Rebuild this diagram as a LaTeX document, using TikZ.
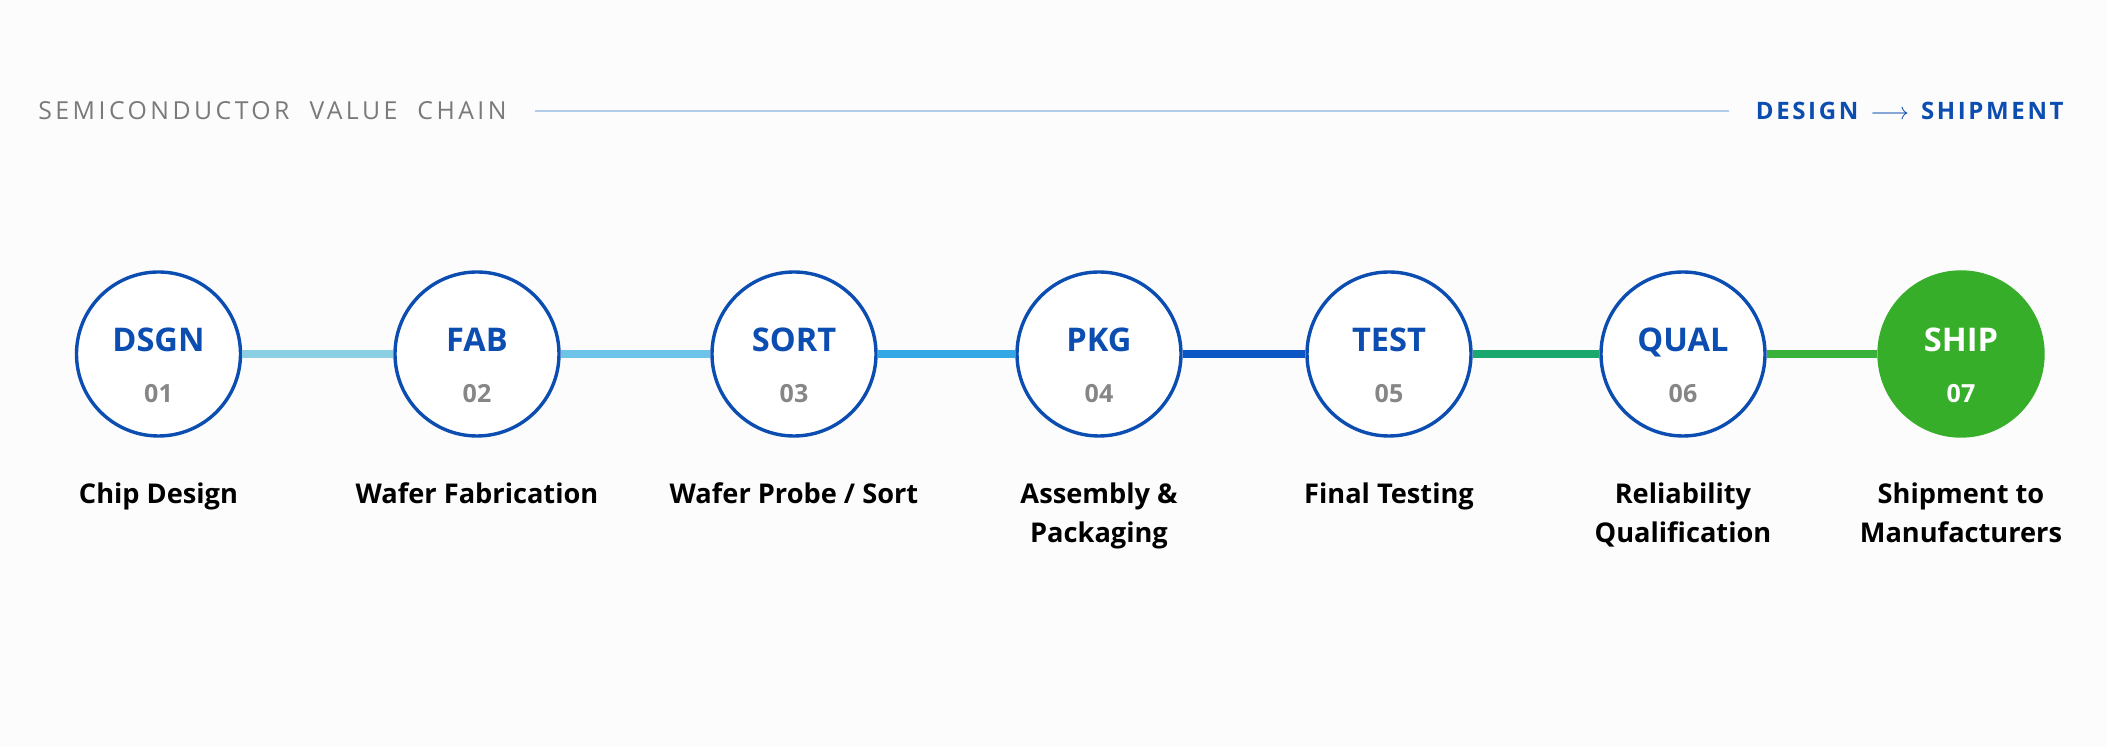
\documentclass[tikz,border=0pt]{standalone}
\usepackage{fontspec}
\setmainfont{Open Sans}
\usetikzlibrary{positioning}

\definecolor{navy}{HTML}{0B4DB0}
\definecolor{numgray}{HTML}{868686}
\definecolor{titlegray}{HTML}{7A7A7A}
\definecolor{rulecol}{HTML}{B3CBEA}
\definecolor{shipgreen}{HTML}{37AE2A}
\definecolor{linkA}{HTML}{8AD0E2}
\definecolor{linkB}{HTML}{6DC3E8}
\definecolor{linkC}{HTML}{33A8E4}
\definecolor{linkD}{HTML}{0B55C5}
\definecolor{linkE}{HTML}{1BA86E}
\definecolor{linkF}{HTML}{38B23A}
\definecolor{bgcol}{HTML}{FCFCFD}

\tikzset{%
  % Specifications for style of nodes:
       stage/.style = {circle, draw=navy, line width=1.7pt, fill=white,
                       minimum size=82pt, inner sep=0pt,
                       text=navy, text height=11.6pt, text depth=14pt,
                       font=\fontsize{16.3}{19}\selectfont\bfseries},
    shipstage/.style = {stage, draw=shipgreen, fill=shipgreen, text=white},
      number/.style = {inner sep=0pt, text=numgray,
                       font=\fontsize{12.5}{14}\selectfont\bfseries},
     caption/.style = {align=center, inner sep=0pt,
                       font=\fontsize{13.6}{19.5}\selectfont\bfseries},
      header/.style = {inner sep=0pt, text height=8.7pt, text depth=0pt,
                       font=\fontsize{12.4}{14}\selectfont},
        link/.style = {line width=4pt},
}

\begin{document}
\begin{tikzpicture}[x=0.5pt, y=-0.5pt]
  \useasboundingbox[fill=bgcol] (0,0) rectangle (2106,747);
  % Header line
  \node (title) [header, anchor=west, text=titlegray] at (38,111)
    {\addfontfeature{LetterSpace=14}SEMICONDUCTOR\hspace{10pt}VALUE\hspace{10pt}CHAIN};
  \node (flow) [header, anchor=east, text=navy, font=\fontsize{12}{14}\selectfont] at (2064,111)
    {\bfseries\addfontfeature{LetterSpace=11}DESIGN\hspace{6pt}$\longrightarrow$\hspace{6pt}SHIPMENT};
  \draw[rulecol, line width=0.8pt] ([xshift=14pt]title.east) -- ([xshift=-13.5pt]flow.west);
  % Specification of stage circles
  \node (dsgn) [stage]     at (158.5,354) {DSGN};
  \node (fab)  [stage]     at (477,354)   {FAB};
  \node (sort) [stage]     at (794,354)   {SORT};
  \node (pkg)  [stage]     at (1099,354)  {PKG};
  \node (test) [stage]     at (1389,354)  {TEST};
  \node (qual) [stage]     at (1683,354)  {QUAL};
  \node (ship) [shipstage] at (1961,354)  {SHIP};
  % Step numbers
  \node (n01) [number] at ([yshift=-20pt]dsgn.center) {01};
  \node (n02) [number] at ([yshift=-20pt]fab.center)  {02};
  \node (n03) [number] at ([yshift=-20pt]sort.center) {03};
  \node (n04) [number] at ([yshift=-20pt]pkg.center)  {04};
  \node (n05) [number] at ([yshift=-20pt]test.center) {05};
  \node (n06) [number] at ([yshift=-20pt]qual.center) {06};
  \node (n07) [number, text=white] at ([yshift=-20pt]ship.center) {07};
  % Captions below the circles
  \node (dsgntxt) [caption, below=22.5pt of dsgn] {Chip Design};
  \node (fabtxt)  [caption, below=22.5pt of fab]  {Wafer Fabrication};
  \node (sorttxt) [caption, below=22.5pt of sort] {Wafer Probe / Sort};
  \node (pkgtxt)  [caption, below=22.5pt of pkg]  {Assembly \&\\Packaging};
  \node (testtxt) [caption, below=22.5pt of test] {Final Testing};
  \node (qualtxt) [caption, below=22.5pt of qual] {Reliability\\Qualification};
  \node (shiptxt) [caption, below=22.5pt of ship] {Shipment to\\Manufacturers};
  % Connectors between the stages
  \draw[link, linkA] (dsgn) -- (fab);
  \draw[link, linkB] (fab)  -- (sort);
  \draw[link, linkC] (sort) -- (pkg);
  \draw[link, linkD] (pkg)  -- (test);
  \draw[link, linkE] (test) -- (qual);
  \draw[link, linkF] (qual) -- (ship);
\end{tikzpicture}
\end{document}
